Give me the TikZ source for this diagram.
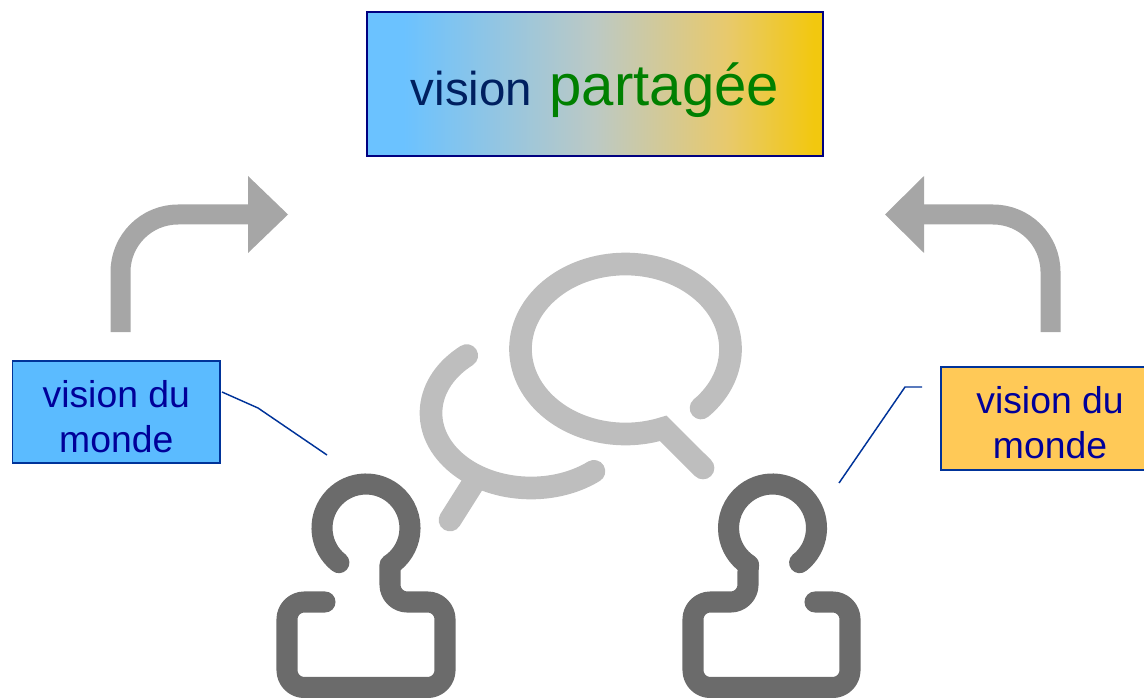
\documentclass[tikz,border=0pt]{standalone}
\usepackage{fontspec}
\setmainfont{Liberation Sans}
\definecolor{navyline}{HTML}{003399}
\definecolor{boxtext}{HTML}{000099}
\definecolor{titlenavy}{HTML}{002060}
\definecolor{titleframe}{HTML}{000080}
\definecolor{titlegreen}{HTML}{008000}
\definecolor{arrowgrey}{HTML}{A6A6A6}
\definecolor{persongrey}{HTML}{6B6B6B}
\definecolor{bubblegrey}{HTML}{BEBEBE}
\definecolor{leftblue}{HTML}{5BBBFF}
\definecolor{rightgold}{HTML}{FFC957}
\definecolor{gradA}{HTML}{6BC2FF}
\definecolor{gradB}{HTML}{BCC9C4}
\definecolor{gradC}{HTML}{E8C96C}
\definecolor{gradD}{HTML}{F2C80F}
\pgfdeclarehorizontalshading{visionshade}{100bp}{
  color(0bp)=(gradA); color(29bp)=(gradA);
  color(50bp)=(gradB); color(64.5bp)=(gradC);
  color(74bp)=(gradD); color(100bp)=(gradD)}
\tikzset{
  worldbox/.style={draw=navyline,line width=.9pt,text=boxtext,inner sep=0pt,align=center,
    font=\fontsize{28}{33.75}\selectfont},
  leader/.style={draw=navyline,line width=1.1pt},
  bigarrow/.style={draw=arrowgrey,line width=15pt},
  headfill/.style={fill=arrowgrey,draw=none},
  person/.style={draw=persongrey,line width=15.8pt,line cap=round,line join=round},
  bubble/.style={draw=bubblegrey,line width=17pt,line cap=round,line join=round}
}
\begin{document}
\begin{tikzpicture}[x=.75pt,y=.75pt]
\useasboundingbox (0,0) rectangle (1144,-698);
% title
\node[draw=titleframe,line width=.9pt,shading=visionshade,minimum width=342pt,minimum height=108pt,inner sep=0pt,text height=40pt,text depth=7pt]
  (title) at (595,-84) {\fontsize{35.6}{40}\selectfont\textcolor{titlenavy}{vision}\hspace{13pt}\fontsize{43.6}{48}\selectfont\textcolor{titlegreen}{partagée}};
% boxes
\node[worldbox,fill=leftblue,minimum width=155.5pt,minimum height=76.5pt] (leftbox) at (116.3,-412) {\rule{0pt}{27.2pt}vision du\\monde};
\node[worldbox,fill=rightgold,minimum width=163.5pt,minimum height=77.25pt] (rightbox) at (1050,-418.5) {\rule{0pt}{27.2pt}vision du\\monde};
% leaders
\coordinate (lstart) at (222,-392);
\coordinate (lbend) at (258,-408);
\coordinate (lend) at (327,-455);
\coordinate (rstart) at (922,-387);
\coordinate (rbend) at (905,-387);
\coordinate (rend) at (839,-483);
\draw[leader] (lstart) -- (lbend) -- (lend);
\draw[leader] (rstart) -- (rbend) -- (rend);
% arrows
\coordinate (la0) at (120.5,-332);
\coordinate (la1) at (248,-214.5);
\draw[bigarrow] (la0) -- (120.5,-272) arc[start angle=180,end angle=90,radius=57.5] -- (la1);
\fill[headfill] (248,-176) -- (288,-214.5) -- (248,-253) -- cycle;
\coordinate (ra0) at (1050.5,-332);
\coordinate (ra1) at (924,-214.5);
\draw[bigarrow] (ra0) -- (1050.5,-272) arc[start angle=0,end angle=90,radius=57.5] -- (ra1);
\fill[headfill] (924,-176) -- (885,-214.5) -- (924,-253) -- cycle;
% bubbles
\draw[bubble,line join=miter,miter limit=4] (625.5,-349) ++(-44:105 and 85) arc[start angle=-44,end angle=291,x radius=105,y radius=85] -- (703,-468);
\draw[bubble] (531,-413) ++(130:100 and 75) arc[start angle=130,end angle=309,x radius=100,y radius=75];
\draw[bubble] (474,-482) -- (450,-520);
% persons
\draw[person] (366,-528) ++(232:44) arc[start angle=232,end angle=-57,radius=44] -- (390,-572) [rounded corners=13pt] -- (390,-602) -- (445,-602) -- (445,-687.5) -- (287,-687.5) -- (287,-602) -- (325,-602);
\draw[person] (772.5,-528) ++(-52:44) arc[start angle=-52,end angle=237,radius=44] -- (748,-572) [rounded corners=13pt] -- (748,-602) -- (693,-602) -- (693,-687.5) -- (850,-687.5) -- (850,-602) -- (815,-602);
\end{tikzpicture}
\end{document}
